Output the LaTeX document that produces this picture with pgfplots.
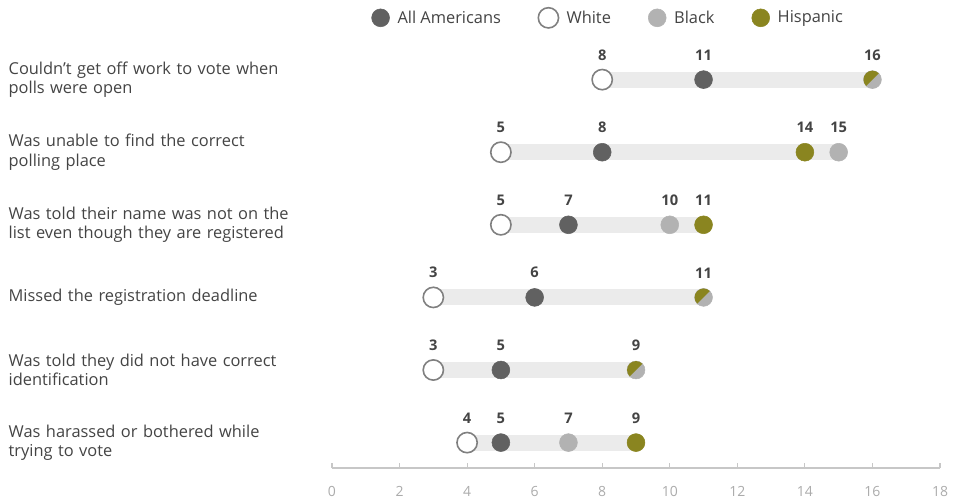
\documentclass[border=0pt]{standalone}
\usepackage{fontspec}
\setmainfont{Open Sans}
\usepackage{pgfplots}
\pgfplotsset{compat=1.18}

\definecolor{allc}{HTML}{616161}
\definecolor{blackc}{HTML}{B2B2B2}
\definecolor{hispc}{HTML}{8A8520}
\definecolor{whitec}{HTML}{808080}
\definecolor{bandc}{HTML}{EBEBEB}
\definecolor{txt}{HTML}{444444}

% upper-left half disc, used where Black and Hispanic share a value
\pgfdeclareplotmark{halfdisc}{%
  \pgfpathmoveto{\pgfqpointpolar{45}{\pgfplotmarksize}}%
  \pgfpatharc{45}{225}{\pgfplotmarksize}%
  \pgfpathclose
  \pgfusepathqfill}

\begin{document}
\begin{tikzpicture}
\begin{axis}[
    scale only axis,
    width=456pt, height=318.5pt,
    xmin=0, xmax=18, ymin=0.5, ymax=6.35,
    y dir=reverse,
    clip=false,
    axis x line*=bottom,
    axis y line*=left,
    y axis line style={draw=none},
    x axis line style={draw=black!22, line width=0.8pt},
    xtick={0,2,...,18},
    tick align=inside,
    major tick length=4pt,
    xtick style={draw=black!22, line width=0.8pt},
    ytick style={draw=none},
    ytick={1,...,6},
    yticklabels={
      {Couldn't get off work to vote when\\polls were open},
      {Was unable to find the correct\\polling place},
      {Was told their name was not on the\\list even though they are registered},
      {Missed the registration deadline},
      {Was told they did not have correct\\identification},
      {Was harassed or bothered while\\trying to vote}},
    yticklabel style={anchor=west, xshift=-246pt, align=left,
      text width=240pt, font=\fontsize{12.3pt}{14.3pt}\selectfont, text=txt},
    xticklabel style={font=\fontsize{10.5pt}{12pt}\selectfont, text=black!33, yshift=-10pt},
    /pgf/number format/assume math mode=true,
    legend columns=4,
    legend style={at={(rel axis cs:0.455,1.06)}, anchor=center, draw=none,
      font=\fontsize{12.3pt}{14pt}\selectfont, text=txt,
      /tikz/every even column/.append style={column sep=26pt},
      /tikz/every odd column/.append style={column sep=4pt}},
    legend cell align=left,
]
\coordinate (bbsw) at (rel axis cs:-0.546,-0.0777);
\coordinate (bbne) at (rel axis cs:1.023,1.102);

% grey band from the lowest to the highest value of each row
\addplot[bandc, line width=12pt, line cap=butt, unbounded coords=jump, forget plot]
  coordinates {(8,1)(16,1) (nan,nan) (5,2)(15,2) (nan,nan) (5,3)(11,3)
               (nan,nan) (3,4)(11,4) (nan,nan) (3,5)(9,5) (nan,nan) (4,6)(9,6)};

\addplot[only marks, mark=*, mark size=6.7pt, allc, mark options={draw=none}]
  coordinates {(11,1)(8,2)(7,3)(6,4)(5,5)(5,6)};
\addlegendentry{All Americans}

\addplot[only marks, mark=*, mark size=7.6pt, mark options={fill=white, draw=whitec, line width=1.2pt}]
  coordinates {(8,1)(5,2)(5,3)(3,4)(3,5)(4,6)};
\addlegendentry{White}

\addplot[only marks, mark=*, mark size=6.7pt, blackc, mark options={draw=none}]
  coordinates {(16,1)(15,2)(10,3)(11,4)(9,5)(7,6)};
\addlegendentry{Black}

\addplot[only marks, mark=*, mark size=6.7pt, hispc, mark options={draw=none}]
  coordinates {(14,2)(11,3)(9,6)};
\addlegendentry{Hispanic}

\addplot[only marks, mark=halfdisc, mark size=6.7pt, hispc, forget plot]
  coordinates {(16,1)(11,4)(9,5)};

% value labels
\addplot[draw=none, mark=none, forget plot,
  nodes near coords, point meta=explicit symbolic,
  nodes near coords style={anchor=south, yshift=11pt,
    font=\bfseries\fontsize{11pt}{12pt}\selectfont, text=txt}]
  table[meta=l] {
x y l
8 1 8
11 1 11
16 1 16
5 2 5
8 2 8
14 2 14
15 2 15
5 3 5
7 3 7
10 3 10
11 3 11
3 4 3
6 4 6
11 4 11
3 5 3
5 5 5
9 5 9
4 6 4
5 6 5
7 6 7
9 6 9
};
\end{axis}
\pgfresetboundingbox
\path (bbsw) rectangle (bbne);
\end{tikzpicture}
\end{document}
